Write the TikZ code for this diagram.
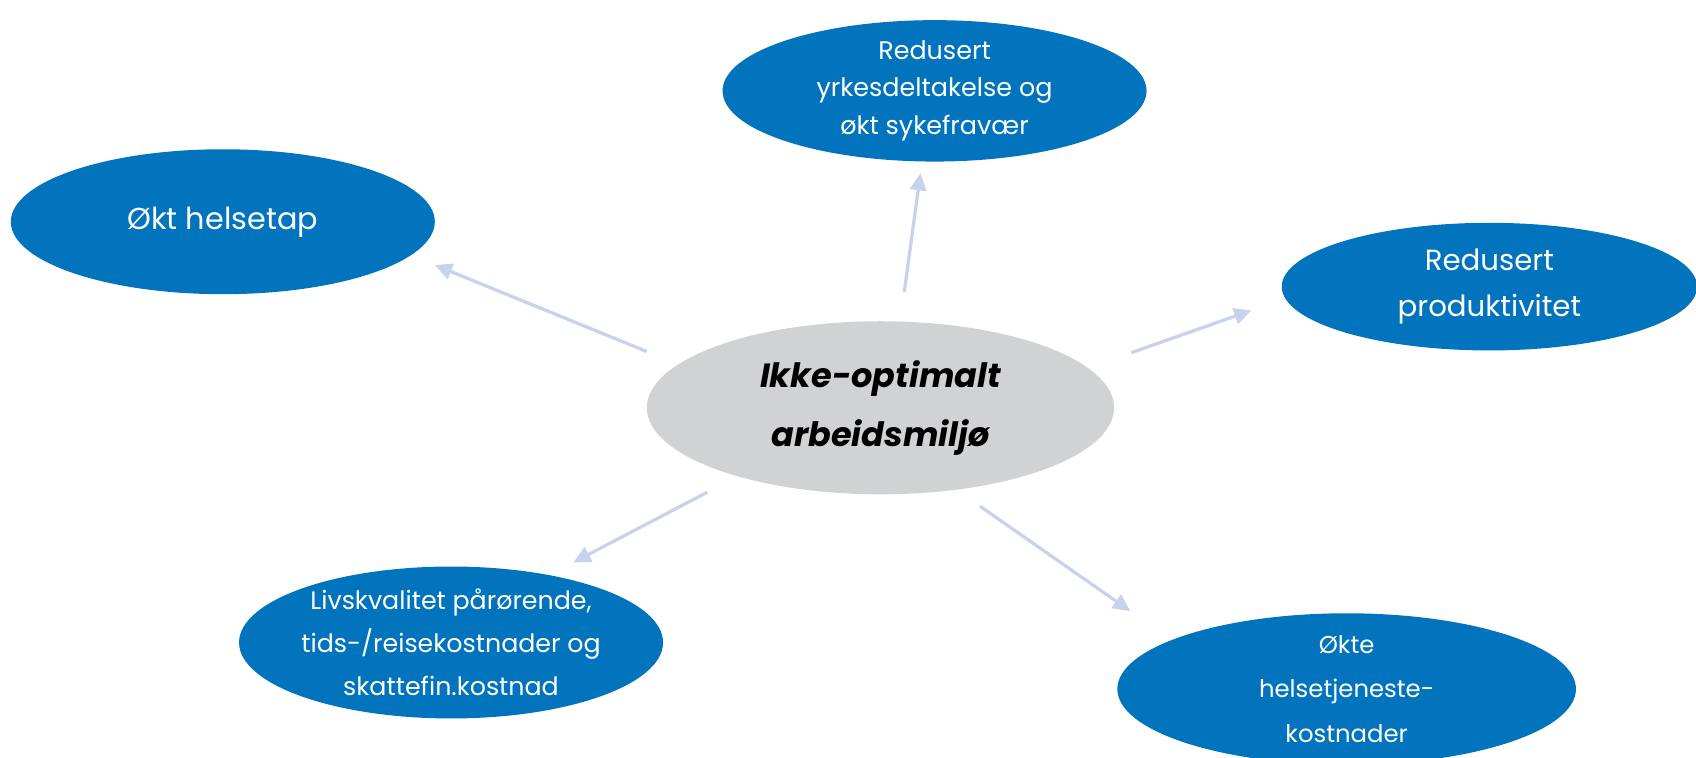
\documentclass[tikz,border=0pt]{standalone}
\usepackage{fontspec}
\setmainfont{Poppins}
\usetikzlibrary{shapes.geometric,arrows.meta}
\definecolor{blueE}{HTML}{0274BD}
\definecolor{grayE}{HTML}{D1D2D4}
\definecolor{arrC}{HTML}{C8D2EC}
\tikzset{
  bluebox/.style={ellipse,fill=blueE,inner sep=0pt,text=white,align=center},
  centerbox/.style={ellipse,fill=grayE,inner sep=0pt,text=black,align=center,
    font=\fontsize{31}{55}\selectfont\bfseries\itshape},
  arr/.style={draw=arrC,line width=3pt,-{Triangle[length=16pt,width=15pt]}}
}
\begin{document}
\begin{tikzpicture}[x=1pt,y=-1pt]
\useasboundingbox (0,0) rectangle (1568,700);
\node[centerbox,minimum width=432pt,minimum height=160pt] (c) at (814,377) {Ikke-optimalt\\arbeidsmiljø};
\node[bluebox,minimum width=392pt,minimum height=130pt,font=\fontsize{23.5}{34.5}\selectfont] (top) at (864,84) {Redusert\\yrkesdeltakelse og\\økt sykefravær};
\node[bluebox,minimum width=392pt,minimum height=134pt,font=\fontsize{28}{40}\selectfont] (helse) at (206,205) {Økt helsetap};
\node[bluebox,minimum width=384pt,minimum height=118pt,font=\fontsize{27}{42}\selectfont] (prod) at (1377,265) {Redusert\\produktivitet};
\node[bluebox,minimum width=392pt,minimum height=136pt,font=\fontsize{23.4}{40}\selectfont] (liv) at (417,594) {Livskvalitet pårørende,\\tids-/reisekostnader og\\skattefin.kostnad};
\node[bluebox,minimum width=424pt,minimum height=140pt,font=\fontsize{22.5}{41}\selectfont] (okte) at (1245,637) {Økte\\helsetjeneste-\\kostnader};
\coordinate (s1) at (836,270); \coordinate (e1) at (851,160);
\coordinate (s2) at (598,325); \coordinate (e2) at (402,245);
\coordinate (s3) at (1046,326); \coordinate (e3) at (1157,287);
\coordinate (s4) at (654,455); \coordinate (e4) at (530,520);
\coordinate (s5) at (906,468); \coordinate (e5) at (1045,565);
\draw[arr] (s1) -- (e1);
\draw[arr] (s2) -- (e2);
\draw[arr] (s3) -- (e3);
\draw[arr] (s4) -- (e4);
\draw[arr] (s5) -- (e5);
\end{tikzpicture}
\end{document}
